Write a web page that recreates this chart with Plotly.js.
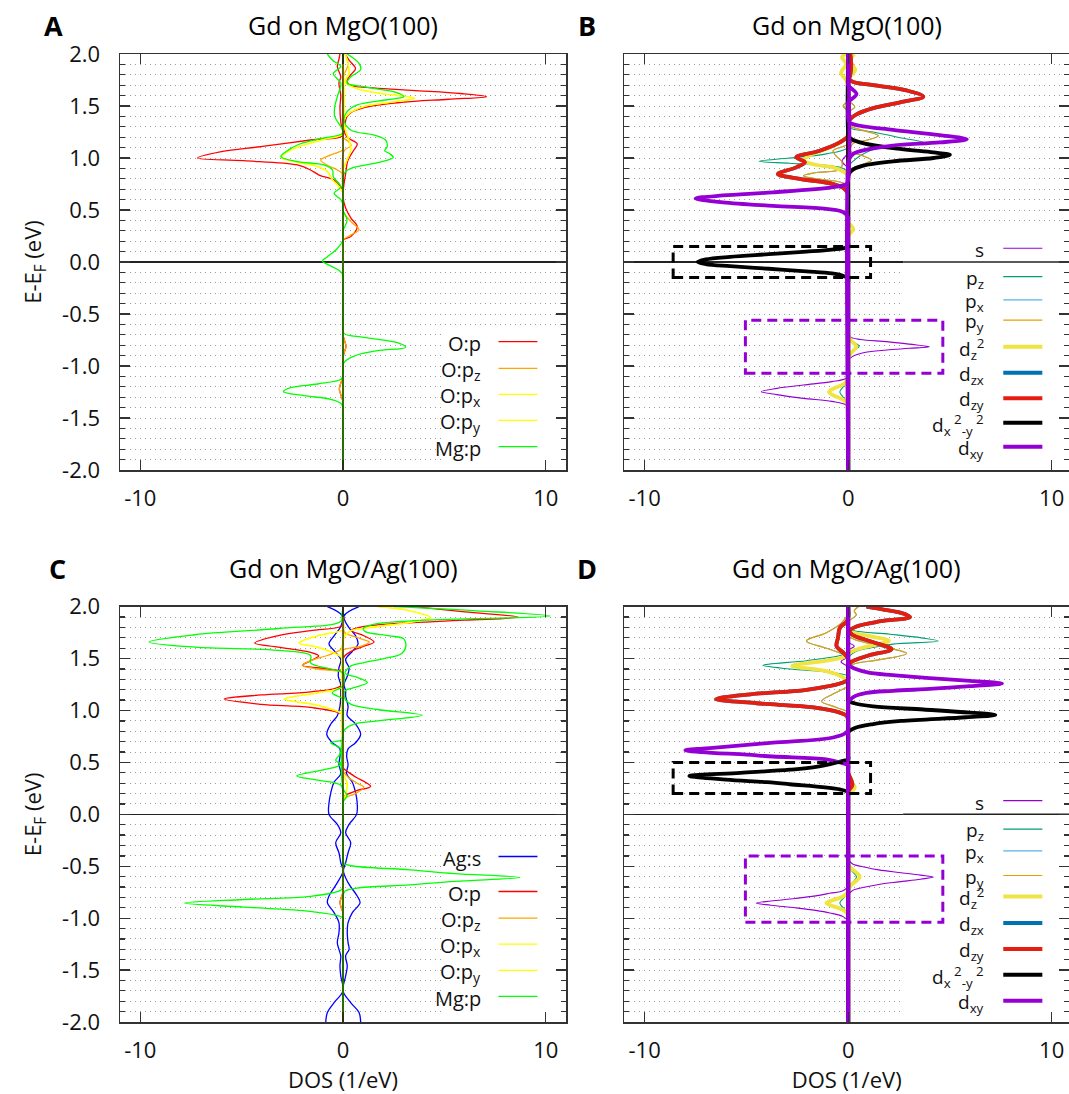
<!DOCTYPE html>
<html><head><meta charset="utf-8">
<script src="https://cdn.plot.ly/plotly-3.0.1.min.js"></script>
<style>html,body{margin:0;padding:0;background:#fff}</style>
</head><body>
<div id="chart" style="width:1069px;height:1094px"></div>
<script>
// ---------------- DATA (energy E in eV, DOS in 1/eV; spin up = +, spin down = -) ----------------
// Panel A : Gd on MgO(100), O and Mg p states
const A_Op_up_E = [2.0,1.94,1.86,1.80,1.74,1.70,1.675,1.65,1.62,1.59,1.565,1.535,1.50,1.45,1.40,1.33,1.27,1.20,1.135,1.077,0.98,0.85,0.63,0.52,0.42,0.34,0.244,0.21,0.17,-0.66,-0.70,-0.76,-0.81,-0.86,-0.92,-0.96,-2.0];
const A_Op_up_D = [0.1,0.3,0.62,0.38,0.2,0.35,1.5,3.4,5.8,7.08,5.2,2.9,1.4,0.5,0.2,0.1,0.05,0.2,0.7,0.54,0.25,0.13,0.0,0.13,0.4,0.7,0.38,0.0,0.0,0.0,0.0,0.08,0.15,0.08,0.0,0.0,0.0];
const A_Op_dn_E = [2.0,1.95,1.88,1.78,1.72,1.60,1.49,1.33,1.22,1.173,1.109,1.061,1.0,0.974,0.933,0.885,0.836,0.79,0.725,0.66,0.62,-1.06,-1.10,-1.16,-1.22,-1.28,-1.34,-1.38,-2.0];
const A_Op_dn_D = [-0.15,-0.2,-0.28,-0.11,-0.2,-0.11,-0.15,-0.1,0.0,-1.6,-4.06,-6.0,-7.18,-4.9,-2.25,-1.6,-1.18,-0.44,-0.11,0.0,0.0,0.0,0.0,-0.1,-0.18,-0.1,0.0,0.0,0.0];
const A_Opz_up_E = [2.0,1.9,1.8,1.75,1.24,1.2,1.16,1.12,1.08,1.04,0.54,0.5,0.47,0.39,0.31,0.26,0.21,0.17,-0.66,-0.70,-0.76,-0.81,-0.86,-0.92,-0.96,-2.0];
const A_Opz_up_D = [0.1,0.25,0.05,0.0,0.0,0.0,0.25,0.4,0.1,0.0,0.0,0.0,0.05,0.38,0.79,0.38,0.0,0.0,0.0,0.0,0.08,0.15,0.08,0.0,0.0,0.0];
const A_Opz_dn_E = [2.0,1.12,1.08,1.03,0.98,0.93,0.885,0.84,0.80,-1.06,-1.10,-1.16,-1.22,-1.28,-1.34,-1.38,-2.0];
const A_Opz_dn_D = [0.0,0.0,0.0,-0.6,-1.1,-0.77,-0.28,0.0,0.0,0.0,0.0,-0.1,-0.18,-0.1,0.0,0.0,0.0];
const A_Opx_up_E = [2.0,1.94,1.81,1.74,1.70,1.65,1.62,1.574,1.54,1.494,1.43,1.365,1.25,1.17,1.08,0.98,0.885,0.845,-2.0];
const A_Opx_up_D = [0.1,0.2,0.3,0.1,0.3,1.0,1.9,3.53,2.5,1.03,0.3,0.05,0.15,0.3,0.38,0.2,0.0,0.0,0.0];
const A_Opx_dn_E = [2.0,1.26,1.22,1.18,1.125,1.077,1.006,0.965,0.917,0.87,0.79,0.724,0.66,0.62,-2.0];
const A_Opx_dn_D = [0.0,0.0,-0.1,-0.94,-1.92,-2.58,-3.04,-2.4,-1.26,-0.77,-0.52,-0.2,0.0,0.0,0.0];
const A_Opy_up_E = A_Opx_up_E, A_Opy_up_D = A_Opx_up_D;
const A_Opy_dn_E = A_Opx_dn_E, A_Opy_dn_D = A_Opx_dn_D;
const A_Mgp_up_E = [2.0,1.91,1.85,1.78,1.72,1.686,1.66,1.638,1.59,1.56,1.51,1.445,1.365,1.27,1.22,1.173,1.109,1.07,1.045,1.006,0.955,0.91,0.87,0.82,0.78,0.54,0.5,0.4,0.3,0.26,-0.56,-0.6,-0.686,-0.724,-0.776,-0.82,-0.853,-0.904,-0.95,-0.99,-1.03,-2.0];
const A_Mgp_up_D = [0.2,0.79,0.87,0.38,0.2,1.03,1.8,2.5,3.0,2.18,0.7,0.2,0.05,0.38,1.53,2.1,2.18,2.05,2.27,2.48,1.7,0.54,0.13,0.0,0.0,0.0,0.0,0.2,0.0,0.0,0.0,0.0,0.05,1.03,2.68,3.09,1.69,0.54,0.13,0.0,0.0,0.0];
const A_Mgp_dn_E = [2.0,1.94,1.88,1.81,1.72,1.59,1.49,1.40,1.30,1.24,1.18,1.125,1.06,1.013,0.965,0.933,0.885,0.82,0.724,0.66,0.60,0.55,0.51,0.25,0.21,0.13,0.05,0.01,-0.03,-0.08,-0.125,-0.165,-1.05,-1.09,-1.128,-1.173,-1.208,-1.247,-1.285,-1.32,-1.36,-1.40,-1.44,-2.0];
const A_Mgp_dn_D = [-0.77,-0.52,-0.11,-0.48,-0.11,-0.28,-0.41,-0.41,-0.11,0.0,-1.26,-2.25,-2.82,-3.07,-2.25,-0.94,-0.52,-0.48,-0.11,-0.44,-0.11,0.0,0.0,0.0,0.0,-0.28,-0.77,-1.02,-0.69,-0.2,0.0,0.0,0.0,0.0,-0.1,-1.26,-2.58,-2.94,-1.92,-0.6,-0.1,0.0,0.0,0.0];

// Panel B : Gd on MgO(100), Gd orbitals
const B_s_up_E = [2.0,1.26,1.22,1.17,1.12,1.08,-0.64,-0.68,-0.72,-0.745,-0.766,-0.79,-0.814,-0.83,-0.846,-0.87,-0.91,-0.95,-0.99,-2.0];
const B_s_up_D = [0,0,0,0.25,0,0,0,0,0.1,0.6,1.9,3.0,3.99,3.0,1.9,0.8,0.2,0,0,0];
const B_s_dn_E = [2.0,1.09,1.05,0.97,0.90,0.86,-1.04,-1.08,-1.118,-1.15,-1.183,-1.215,-1.247,-1.275,-1.311,-1.34,-1.375,-1.42,-1.46,-2.0];
const B_s_dn_D = [0,0,0,-0.3,0,0,0,0,-0.1,-0.8,-2.2,-3.5,-4.27,-3.5,-2.2,-0.8,-0.1,0,0,0];
const B_pz_up_E = [2.0,1.37,1.33,1.29,1.25,1.19,1.15,1.12,1.07,1.02,0.97,0.93,0.89,-0.66,-0.70,-0.76,-0.81,-0.86,-0.92,-0.96,-2.0];
const B_pz_up_D = [0,0,0,0.08,1.23,2.7,3.69,2.2,1.07,0.57,0.25,0.05,0,0,0,0.2,0.54,0.2,0,0,0];
const B_pz_dn_E = [2.0,1.13,1.09,1.04,1.0,0.968,0.95,0.93,0.90,0.86,0.82,-1.08,-1.12,-1.19,-1.25,-1.31,-1.38,-1.42,-2.0];
const B_pz_dn_D = [0,0,-0.08,-1.07,-2.87,-4.38,-2.87,-1.07,-0.25,0,0,0,0,-0.2,-0.41,-0.2,0,0,0];
const B_py_up_E = [2.0,1.59,1.55,1.49,1.44,1.40,1.35,1.31,1.256,1.215,1.17,1.14,1.07,1.02,0.98,0.94,0.89,0.85,-2.0];
const B_py_up_D = [0,0,0.05,0.33,0,0,0,0.08,0.9,1.48,0.9,0.25,0.1,0.74,1.15,0.74,0.08,0,0];
const B_py_dn_E = [2.0,1.59,1.55,1.50,1.45,1.41,1.175,1.135,1.07,1.02,0.96,0.89,0.86,0.83,0.80,0.77,0.73,0.69,-2.0];
const B_py_dn_D = [0,0,0,-0.25,0,0,0,0,-0.74,-0.6,-0.3,-0.41,-1.56,-2.2,-1.56,-0.41,0,0,0];
const B_px_up_E = B_py_up_E, B_px_up_D = B_py_up_D;
const B_px_dn_E = B_py_dn_E, B_px_dn_D = B_py_dn_D;
const B_dz2_up_E = [2.0,1.93,1.85,1.78,1.72,1.68,0.42,0.38,0.32,0.25,0.21,-0.66,-0.70,-0.75,-0.79,-0.814,-0.84,-0.88,-0.93,-0.97,-2.0];
const B_dz2_up_D = [0.3,0.1,0.35,0.1,0,0,0,0,0.25,0,0,0,0,0.12,0.32,0.4,0.32,0.12,0,0,0];
const B_dz2_dn_E = [2.0,1.97,1.90,1.82,1.75,1.70,1.66,1.24,1.20,1.15,1.087,1.04,0.98,0.94,0.91,0.87,0.83,0.79,-1.08,-1.12,-1.17,-1.22,-1.25,-1.28,-1.33,-1.38,-1.42,-2.0];
const B_dz2_dn_D = [-0.1,-0.3,-0.1,-0.35,-0.1,0,0,0,-0.08,-0.41,-1.07,-1.72,-2.2,-1.72,-0.74,-0.25,0,0,0,0,-0.2,-0.75,-0.94,-0.75,-0.2,0,0,0];
const B_dzy_up_E = [2.0,1.90,1.80,1.76,1.73,1.70,1.65,1.59,1.535,1.48,1.42,1.375,1.33,1.29,-2.0];
const B_dzy_up_D = [0.1,0.15,0.1,0.05,0.25,1.23,2.87,3.69,2.55,1.23,0.41,0.1,0,0,0];
const B_dzy_dn_E = [2.0,1.25,1.21,1.15,1.07,1.006,0.96,0.91,0.846,0.80,0.75,0.70,0.65,0.61,-2.0];
const B_dzy_dn_D = [0,0,0,-0.41,-1.4,-2.55,-2.13,-2.55,-3.45,-2.38,-0.74,-0.16,0,0,0];
const B_dzx_up_E = B_dzy_up_E, B_dzx_up_D = B_dzy_up_D;
const B_dzx_dn_E = B_dzy_dn_E, B_dzx_dn_D = B_dzy_dn_D;
const B_dx2_up_E = [2.0,1.24,1.20,1.15,1.087,1.054,1.03,1.0,0.968,0.926,0.878,0.83,0.79,-2.0];
const B_dx2_up_D = [0,0,0.05,0.57,2.55,4.19,5.0,4.19,2.2,0.74,0.16,0,0,0];
const B_dx2_dn_E = [2.0,0.20,0.16,0.14,0.12,0.10,0.075,0.05,0.025,0.0,-0.02,-0.04,-0.065,-0.09,-0.11,-0.13,-0.16,-0.20,-2.0];
const B_dx2_dn_D = [0,0,0,-0.1,-0.8,-2.05,-3.9,-5.8,-7.0,-7.4,-7.0,-5.8,-3.9,-2.05,-0.8,-0.3,0,0,0];
const B_dxy_up_E = [2.0,1.74,1.70,1.615,1.535,1.49,1.38,1.34,1.31,1.27,1.22,1.18,1.15,1.12,1.08,1.04,0.99,0.95,-2.0];
const B_dxy_up_D = [0,0,0,0.41,0,0,0,0.08,0.57,2.2,4.5,5.83,4.5,2.2,0.9,0.25,0.05,0,0];
const B_dxy_dn_E = [2.0,0.79,0.75,0.72,0.67,0.64,0.61,0.574,0.54,0.51,0.48,0.43,0.39,-2.0];
const B_dxy_dn_D = [0,0,-0.08,-0.74,-3.7,-6.16,-7.5,-6.16,-3.7,-1.07,-0.25,0,0,0];

// Panel C : Gd on MgO/Ag(100), Ag s, O and Mg p states
const C_Ags_E = [2.0,1.91,1.81,1.72,1.64,1.57,1.49,1.41,1.33,1.25,1.19,1.14,1.04,0.95,0.87,0.77,0.69,0.63,0.56,0.48,0.39,0.31,0.21,0.11,0.0,-0.097,-0.177,-0.273,-0.37,-0.466,-0.546,-0.658,-0.787,-0.851,-0.947,-1.043,-1.14,-1.236,-1.30,-1.364,-1.46,-1.557,-1.70,-1.813,-1.909,-2.0];
const C_Ags_up_D = [0.79,0.05,0.25,0.62,0.74,0.46,0.13,0.3,0.21,0.05,0.13,0.13,0.25,0.21,0.62,0.87,0.62,0.25,0.18,0.25,0.18,0.46,0.62,0.7,0.67,0.3,0.13,0.38,0.25,0.13,0.02,0.25,0.7,0.84,0.46,0.25,0.21,0.25,0.3,0.13,0.21,0.13,0.0,0.38,0.79,0.87];
const C_Ags_dn_D = [-0.77,-0.03,-0.11,-0.44,-0.69,-0.41,-0.11,-0.2,-0.23,-0.11,-0.11,-0.11,-0.15,-0.28,-0.6,-0.8,-0.52,-0.15,-0.15,-0.2,-0.11,-0.44,-0.6,-0.69,-0.69,-0.28,-0.11,-0.36,-0.2,-0.11,0.0,-0.28,-0.69,-0.77,-0.44,-0.2,-0.2,-0.28,-0.2,-0.11,-0.15,-0.11,0.0,-0.44,-0.77,-0.85];
const C_Op_up_E = [2.0,1.95,1.90,1.87,1.83,1.80,1.77,1.72,1.66,1.62,1.57,1.53,1.49,0.49,0.45,0.43,0.37,0.27,0.23,0.18,0.14,0.10,-2.0];
const C_Op_up_D = [3.5,6.0,8.67,6.0,2.0,0.8,0.4,1.03,1.53,1.03,0.4,0.1,0,0,0,0.1,0.54,1.36,0.7,0.1,0,0,0];
const C_Op_dn_E = [2.0,1.84,1.81,1.77,1.72,1.65,1.61,1.56,1.525,1.48,1.435,1.40,1.365,1.24,1.18,1.15,1.11,1.06,1.03,0.96,0.92,-0.71,-0.75,-0.80,-0.85,-0.90,-0.95,-0.99,-2.0];
const C_Op_dn_D = [0,0,-0.1,-1.6,-3.23,-4.35,-3.2,-1.6,-1.2,-1.6,-2.0,-0.77,0,-0.1,-1.6,-4.05,-5.86,-4.05,-1.6,0,0,0,0,-0.08,-0.15,-0.08,0,0,0];
const C_Opz_up_E = [2.0,1.79,1.75,1.69,1.66,1.62,1.58,1.54,0.46,0.42,0.35,0.30,0.26,0.20,0.15,0.10,0.06,-2.0];
const C_Opz_up_D = [0,0,0.1,0.9,1.3,0.9,0,0,0,0,0.3,0.7,1.03,0.6,0.05,0,0,0];
const C_Opz_dn_E = [2.0,1.63,1.59,1.53,1.48,1.435,1.40,1.365,1.33,-0.71,-0.75,-0.80,-0.85,-0.90,-0.95,-0.99,-2.0];
const C_Opz_dn_D = [0,0,-0.1,-0.77,-1.6,-2.0,-1.26,0,0,0,0,-0.08,-0.15,-0.08,0,0,0];
const C_Opx_up_E = [2.0,1.96,1.895,1.85,1.80,1.77,1.72,1.68,0.44,0.40,0.30,0.20,0.12,0.08,-2.0];
const C_Opx_up_D = [1.7,3.3,4.32,3.3,1.36,0.4,0.1,0,0,0,0.2,0.15,0,0,0];
const C_Opx_dn_E = [2.0,1.82,1.78,1.72,1.65,1.61,1.54,1.50,1.46,1.26,1.22,1.17,1.11,1.05,0.96,0.92,-2.0];
const C_Opx_dn_D = [0,0,0,-1.26,-2.17,-1.26,-0.3,0,0,0,-0.1,-1.26,-2.9,-1.26,0,0,0];
const C_Opy_up_E = C_Opx_up_E, C_Opy_up_D = C_Opx_up_D;
const C_Opy_dn_E = C_Opx_dn_E, C_Opy_dn_D = C_Opx_dn_D;
const C_Mgp_up_E = [2.0,1.96,1.91,1.87,1.83,1.79,1.76,1.72,1.69,1.62,1.55,1.50,1.46,1.43,1.36,1.32,1.27,1.22,1.19,1.11,1.06,1.01,0.954,0.90,0.87,0.82,0.78,0.25,0.18,0.12,0.08,-0.41,-0.45,-0.47,-0.495,-0.534,-0.57,-0.608,-0.645,-0.68,-0.71,-0.74,-0.78,-0.82,-2.0];
const C_Mgp_up_D = [2.5,6.6,10.23,4.0,1.5,1.0,1.1,2.3,3.0,3.1,2.9,2.0,1.0,0.4,0.1,0.7,1.2,0.54,0.1,0.1,0.4,1.7,3.9,1.7,0.54,0.1,0,0,0.2,0,0,0,0,0.05,0.4,3.3,5.5,8.72,5.5,3.3,0.7,0.1,0,0,0];
const C_Mgp_dn_E = [2.0,1.93,1.86,1.79,1.73,1.66,1.61,1.58,1.53,1.46,1.40,1.36,1.24,1.17,1.11,1.07,0.76,0.72,0.69,0.63,0.58,0.52,0.48,0.43,0.37,0.33,0.28,0.20,0.16,-0.66,-0.70,-0.73,-0.79,-0.82,-0.855,-0.893,-0.935,-0.998,-1.04,-2.0];
const C_Mgp_dn_D = [0,-0.05,-0.1,-3.2,-7.3,-9.56,-7.3,-3.2,-1.6,-1.6,-0.6,0,0,-0.53,0,0,0,0,-0.6,-0.1,-0.15,-0.36,-0.1,-0.94,-2.28,-1.26,-0.1,0,0,0,0,-0.1,-1.6,-4.9,-7.83,-4.9,-1.6,0,0,0];

// Panel D : Gd on MgO/Ag(100), Gd orbitals
const D_s_up_E = [2.0,1.70,1.66,1.62,1.58,1.54,-0.39,-0.43,-0.475,-0.51,-0.535,-0.56,-0.585,-0.604,-0.625,-0.65,-0.675,-0.70,-0.735,-0.78,-0.82,-2.0];
const D_s_up_D = [0,0,0,0.3,0,0,0,0,0.2,0.85,1.5,2.5,3.55,4.19,3.55,2.5,1.5,0.85,0.2,0,0,0];
const D_s_dn_E = [2.0,1.56,1.52,1.47,1.42,1.38,-0.65,-0.69,-0.735,-0.76,-0.785,-0.81,-0.835,-0.855,-0.875,-0.90,-0.925,-0.95,-0.985,-1.03,-1.07,-2.0];
const D_s_dn_D = [0,0,0,-0.35,0,0,0,0,-0.25,-0.9,-1.6,-2.6,-3.8,-4.52,-3.8,-2.6,-1.6,-0.9,-0.25,0,0,0];
const D_pz_up_E = [2.0,1.80,1.77,1.735,1.70,1.67,1.64,1.60,1.57,1.53,1.49,-0.46,-0.50,-0.56,-0.604,-0.65,-0.70,-0.74,-2.0];
const D_pz_up_D = [0,0,0.25,2.05,3.6,4.43,2.2,1.0,0.4,0.1,0,0,0,0.25,0.41,0.25,0,0,0];
const D_pz_dn_E = [2.0,1.60,1.56,1.53,1.48,1.435,1.40,1.365,1.33,1.29,-0.70,-0.74,-0.80,-0.855,-0.91,-0.97,-1.01,-2.0];
const D_pz_dn_D = [0,0,0,-0.4,-2.05,-4.19,-2.87,-0.74,0,0,0,0,-0.2,-0.41,-0.2,0,0,0];
const D_py_up_E = [2.0,1.96,1.92,1.85,1.72,1.69,1.62,1.55,1.49,1.445,1.40,1.36,-2.0];
const D_py_up_D = [0.5,0.3,0.4,0,0,0.25,1.56,2.87,1.56,0.25,0,0,0];
const D_py_dn_E = [2.0,1.94,1.85,1.75,1.67,1.60,1.54,1.50,1.46,1.28,1.24,1.16,1.09,1.03,0.98,0.94,-2.0];
const D_py_dn_D = [0,0,-0.3,-1.07,-2.05,-1.07,-0.25,0,0,0,0,-0.74,-1.31,-0.57,0,0,0];
const D_px_up_E = D_py_up_E, D_px_up_D = D_py_up_D;
const D_px_dn_E = D_py_dn_E, D_px_dn_D = D_py_dn_D;
const D_dz2_up_E = [2.0,1.82,1.78,1.75,1.71,1.67,1.63,1.575,1.54,1.50,0.40,0.36,0.30,0.26,0.22,0.18,0.14,-0.44,-0.48,-0.52,-0.56,-0.60,-0.64,-0.68,-0.72,-0.76,-2.0];
const D_dz2_up_D = [0,0,0,0.25,1.23,2.0,1.23,0.25,0,0,0,0,0.2,0.33,0.2,0,0,0,0,0.15,0.4,0.57,0.4,0.15,0,0,0];
const D_dz2_dn_E = [2.0,1.60,1.56,1.525,1.48,1.43,1.38,1.32,1.28,1.24,-0.70,-0.74,-0.79,-0.83,-0.855,-0.88,-0.92,-0.97,-1.01,-2.0];
const D_dz2_dn_D = [0,0,0,-0.1,-1.07,-2.75,-1.07,-0.25,0,0,0,0,-0.25,-0.8,-1.07,-0.8,-0.25,0,0,0];
const D_dzy_up_E = [2.0,1.97,1.94,1.90,1.86,1.81,1.77,1.73,1.66,1.59,1.53,1.46,1.42,1.38,0.44,0.40,0.33,0.28,0.22,0.18,-2.0];
const D_dzy_up_D = [0.9,1.8,2.6,3.04,1.6,0.41,0.08,0.2,1.2,2.13,1.0,0.1,0,0,0,0,0.15,0.2,0,0,0];
const D_dzy_dn_E = [2.0,1.89,1.85,1.80,1.70,1.62,1.55,1.50,1.46,1.34,1.30,1.27,1.20,1.156,1.11,1.07,1.03,0.98,0.95,0.91,0.87,-2.0];
const D_dzy_dn_D = [0,0,-0.1,-0.4,-0.5,-0.57,-0.2,0,0,0,0,-0.25,-2.05,-4.8,-6.49,-4.5,-1.7,-0.41,-0.08,0,0,0];
const D_dzx_up_E = D_dzy_up_E, D_dzx_up_D = D_dzy_up_D;
const D_dzx_dn_E = D_dzy_dn_E, D_dzx_dn_D = D_dzy_dn_D;
const D_dx2_up_E = [2.0,1.14,1.10,1.07,1.04,1.01,0.98,0.958,0.935,0.90,0.87,0.83,0.79,0.75,-2.0];
const D_dx2_up_D = [0,0,0,0.3,1.23,3.7,6.0,7.23,5.8,2.6,1.23,0.3,0,0,0];
const D_dx2_dn_E = [2.0,0.57,0.53,0.515,0.46,0.43,0.40,0.37,0.335,0.31,0.29,0.24,0.21,0.17,-2.0];
const D_dx2_dn_D = [0,0,0,-0.25,-1.5,-2.87,-5.3,-7.8,-6.0,-4.0,-2.87,-0.41,0,0,0];
const D_dxy_up_E = [2.0,1.49,1.45,1.42,1.37,1.34,1.31,1.285,1.26,1.235,1.21,1.19,1.17,1.13,1.08,1.04,-2.0];
const D_dxy_up_D = [0,0,0,0.15,0.9,2.2,4.19,6.0,7.56,6.0,4.19,2.2,0.9,0.25,0,0,0];
const D_dxy_dn_E = [2.0,0.86,0.82,0.79,0.74,0.69,0.655,0.635,0.618,0.60,0.575,0.557,0.53,0.50,0.47,0.43,-2.0];
const D_dxy_dn_D = [0,0,0,-0.08,-0.74,-3.7,-5.8,-7.0,-8.0,-7.2,-5.0,-3.7,-1.07,-0.41,0,0,0];

// Tick labels and key names
const xTickVals = [-10, 0, 10];
const xTickText = ['-10', '0', '10'];
const yTickVals = [-2, -1.5, -1, -0.5, 0, 0.5, 1, 1.5, 2];
const yTickText = ['-2.0', '-1.5', '-1.0', '-0.5', '0.0', '0.5', '1.0', '1.5', '2.0'];
const A_legendNames = ['O:p', 'O:p<sub>z</sub>', 'O:p<sub>x</sub>', 'O:p<sub>y</sub>', 'Mg:p'];
const C_legendNames = ['Ag:s', 'O:p', 'O:p<sub>z</sub>', 'O:p<sub>x</sub>', 'O:p<sub>y</sub>', 'Mg:p'];
const BD_legendNames = ['s', 'p<sub>z</sub>', 'p<sub>x</sub>', 'p<sub>y</sub>', 'd<sub>z</sub><sup>2</sup>', 'd<sub>zx</sub>', 'd<sub>zy</sub>', 'd<sub>x</sub><sup> 2</sup><sub>-y</sub><sup> 2</sup>', 'd<sub>xy</sub>'];
const panelTitles = ['Gd on MgO(100)', 'Gd on MgO(100)', 'Gd on MgO/Ag(100)', 'Gd on MgO/Ag(100)'];
const panelLetters = ['A', 'B', 'C', 'D'];

// ---------------- STYLE ----------------
const FONT = '"Open Sans", "DejaVu Sans", sans-serif';
const RED = '#ff0000', ORANGE = '#ffa500', YELLOW = '#ffff00', GREEN = '#00ff00', BLUE = '#0000ff';
const G_S = '#9400d3', G_PZ = '#009e73', G_PX = '#56b4e9', G_PY = '#e69f00', G_DZ2 = '#f0e442', G_DZX = '#0072b2', G_DZY = '#e51e10', G_DX2 = '#000000', G_DXY = '#9400d3';
const THIN_AC = 1.3, THIN = 1.1, THICK = 3.8;

const traces = [];
function curve(E, D, xa, ya, color, width) {
  traces.push({type: 'scatter', mode: 'lines', x: D, y: E, xaxis: xa, yaxis: ya,
    line: {color: color, width: width, shape: 'spline', smoothing: 1},
    hoverinfo: 'skip', showlegend: false});
}
// Panel A
curve(A_Op_up_E, A_Op_up_D, 'x', 'y', RED, THIN_AC); curve(A_Op_dn_E, A_Op_dn_D, 'x', 'y', RED, THIN_AC);
curve(A_Opz_up_E, A_Opz_up_D, 'x', 'y', ORANGE, THIN_AC); curve(A_Opz_dn_E, A_Opz_dn_D, 'x', 'y', ORANGE, THIN_AC);
curve(A_Opx_up_E, A_Opx_up_D, 'x', 'y', YELLOW, THIN_AC); curve(A_Opx_dn_E, A_Opx_dn_D, 'x', 'y', YELLOW, THIN_AC);
curve(A_Opy_up_E, A_Opy_up_D, 'x', 'y', YELLOW, THIN_AC); curve(A_Opy_dn_E, A_Opy_dn_D, 'x', 'y', YELLOW, THIN_AC);
curve(A_Mgp_up_E, A_Mgp_up_D, 'x', 'y', GREEN, THIN_AC); curve(A_Mgp_dn_E, A_Mgp_dn_D, 'x', 'y', GREEN, THIN_AC);
// Panel B
curve(B_s_up_E, B_s_up_D, 'x2', 'y2', G_S, THIN); curve(B_s_dn_E, B_s_dn_D, 'x2', 'y2', G_S, THIN);
curve(B_pz_up_E, B_pz_up_D, 'x2', 'y2', G_PZ, THIN); curve(B_pz_dn_E, B_pz_dn_D, 'x2', 'y2', G_PZ, THIN);
curve(B_px_up_E, B_px_up_D, 'x2', 'y2', G_PX, THIN); curve(B_px_dn_E, B_px_dn_D, 'x2', 'y2', G_PX, THIN);
curve(B_py_up_E, B_py_up_D, 'x2', 'y2', G_PY, THIN); curve(B_py_dn_E, B_py_dn_D, 'x2', 'y2', G_PY, THIN);
curve(B_dz2_up_E, B_dz2_up_D, 'x2', 'y2', G_DZ2, THICK); curve(B_dz2_dn_E, B_dz2_dn_D, 'x2', 'y2', G_DZ2, THICK);
curve(B_dzx_up_E, B_dzx_up_D, 'x2', 'y2', G_DZX, THICK); curve(B_dzx_dn_E, B_dzx_dn_D, 'x2', 'y2', G_DZX, THICK);
curve(B_dzy_up_E, B_dzy_up_D, 'x2', 'y2', G_DZY, THICK); curve(B_dzy_dn_E, B_dzy_dn_D, 'x2', 'y2', G_DZY, THICK);
curve(B_dx2_up_E, B_dx2_up_D, 'x2', 'y2', G_DX2, THICK); curve(B_dx2_dn_E, B_dx2_dn_D, 'x2', 'y2', G_DX2, THICK);
curve(B_dxy_up_E, B_dxy_up_D, 'x2', 'y2', G_DXY, THICK); curve(B_dxy_dn_E, B_dxy_dn_D, 'x2', 'y2', G_DXY, THICK);
// Panel C
curve(C_Ags_E, C_Ags_up_D, 'x3', 'y3', BLUE, THIN_AC); curve(C_Ags_E, C_Ags_dn_D, 'x3', 'y3', BLUE, THIN_AC);
curve(C_Op_up_E, C_Op_up_D, 'x3', 'y3', RED, THIN_AC); curve(C_Op_dn_E, C_Op_dn_D, 'x3', 'y3', RED, THIN_AC);
curve(C_Opz_up_E, C_Opz_up_D, 'x3', 'y3', ORANGE, THIN_AC); curve(C_Opz_dn_E, C_Opz_dn_D, 'x3', 'y3', ORANGE, THIN_AC);
curve(C_Opx_up_E, C_Opx_up_D, 'x3', 'y3', YELLOW, THIN_AC); curve(C_Opx_dn_E, C_Opx_dn_D, 'x3', 'y3', YELLOW, THIN_AC);
curve(C_Opy_up_E, C_Opy_up_D, 'x3', 'y3', YELLOW, THIN_AC); curve(C_Opy_dn_E, C_Opy_dn_D, 'x3', 'y3', YELLOW, THIN_AC);
curve(C_Mgp_up_E, C_Mgp_up_D, 'x3', 'y3', GREEN, THIN_AC); curve(C_Mgp_dn_E, C_Mgp_dn_D, 'x3', 'y3', GREEN, THIN_AC);
// Panel D
curve(D_s_up_E, D_s_up_D, 'x4', 'y4', G_S, THIN); curve(D_s_dn_E, D_s_dn_D, 'x4', 'y4', G_S, THIN);
curve(D_pz_up_E, D_pz_up_D, 'x4', 'y4', G_PZ, THIN); curve(D_pz_dn_E, D_pz_dn_D, 'x4', 'y4', G_PZ, THIN);
curve(D_px_up_E, D_px_up_D, 'x4', 'y4', G_PX, THIN); curve(D_px_dn_E, D_px_dn_D, 'x4', 'y4', G_PX, THIN);
curve(D_py_up_E, D_py_up_D, 'x4', 'y4', G_PY, THIN); curve(D_py_dn_E, D_py_dn_D, 'x4', 'y4', G_PY, THIN);
curve(D_dz2_up_E, D_dz2_up_D, 'x4', 'y4', G_DZ2, THICK); curve(D_dz2_dn_E, D_dz2_dn_D, 'x4', 'y4', G_DZ2, THICK);
curve(D_dzx_up_E, D_dzx_up_D, 'x4', 'y4', G_DZX, THICK); curve(D_dzx_dn_E, D_dzx_dn_D, 'x4', 'y4', G_DZX, THICK);
curve(D_dzy_up_E, D_dzy_up_D, 'x4', 'y4', G_DZY, THICK); curve(D_dzy_dn_E, D_dzy_dn_D, 'x4', 'y4', G_DZY, THICK);
curve(D_dx2_up_E, D_dx2_up_D, 'x4', 'y4', G_DX2, THICK); curve(D_dx2_dn_E, D_dx2_dn_D, 'x4', 'y4', G_DX2, THICK);
curve(D_dxy_up_E, D_dxy_up_D, 'x4', 'y4', G_DXY, THICK); curve(D_dxy_dn_E, D_dxy_dn_D, 'x4', 'y4', G_DXY, THICK);

// ---------------- LAYOUT ----------------
const W = 1069, H = 1094, ML = 120, MR = 0, MT = 54, MB = 72;
const PW = W - ML - MR, PH = H - MT - MB;
const px = v => (v - ML) / PW;          // pixel -> paper x
const py = v => (H - MB - v) / PH;      // pixel -> paper y

const axLine = '#333';
const tickFont = {family: FONT, size: 22, color: '#111'};
const xBase = {range: [-11, 11], tickmode: 'array', tickvals: xTickVals, ticktext: xTickText,
  ticks: 'inside', ticklen: 10, tickwidth: 1.3, tickcolor: axLine, showline: true, linecolor: axLine,
  linewidth: 1.5, mirror: 'ticks', showgrid: false, zeroline: false, tickfont: tickFont,
  ticklabelstandoff: 8, fixedrange: true};
const gridStyle = {showgrid: true, gridcolor: '#9a9a9a', gridwidth: 1, griddash: '1px,4px'};
const yBase = Object.assign({range: [-2, 2], tickmode: 'array', tickvals: yTickVals, ticktext: yTickText,
  ticks: 'inside', ticklen: 10, tickwidth: 1.3, tickcolor: axLine, showline: true, linecolor: axLine,
  linewidth: 1.5, mirror: 'ticks', zeroline: true, zerolinecolor: '#222', zerolinewidth: 1.5,
  tickfont: tickFont, ticklabelstandoff: 14, fixedrange: true,
  minor: Object.assign({tickmode: 'linear', tick0: 0, dtick: 0.1, ticks: 'inside', ticklen: 5,
    tickwidth: 1.3, tickcolor: axLine}, gridStyle)}, gridStyle);

const yTitle = {text: 'E-E<sub>F</sub> (eV)', font: {family: FONT, size: 22, color: '#111'}, standoff: 14};
const xTitle = {text: 'DOS (1/eV)', font: {family: FONT, size: 22, color: '#111'}, standoff: 4};

const topDom = [py(470), 1], botDom = [0, py(606.7)];
const leftDom = [0, px(566)], rightDom = [px(624.3), 1];
const rightRange = [-11, 10.85];

const layout = {
  width: W, height: H, margin: {l: ML, r: MR, t: MT, b: MB},
  paper_bgcolor: '#fff', plot_bgcolor: '#fff', showlegend: false,
  font: {family: FONT, color: '#111'},
  xaxis: Object.assign({}, xBase, {domain: leftDom, anchor: 'y'}),
  yaxis: Object.assign({}, yBase, {domain: topDom, anchor: 'x', title: yTitle}),
  xaxis2: Object.assign({}, xBase, {domain: rightDom, anchor: 'y2', range: rightRange}),
  yaxis2: Object.assign({}, yBase, {domain: topDom, anchor: 'x2', showticklabels: false}),
  xaxis3: Object.assign({}, xBase, {domain: leftDom, anchor: 'y3', title: xTitle}),
  yaxis3: Object.assign({}, yBase, {domain: botDom, anchor: 'x3', title: yTitle}),
  xaxis4: Object.assign({}, xBase, {domain: rightDom, anchor: 'y4', range: rightRange, title: xTitle}),
  yaxis4: Object.assign({}, yBase, {domain: botDom, anchor: 'x4', showticklabels: false}),
  shapes: [], annotations: []
};

// panel titles and letters
const titleX = [343, 846.7, 343, 846.7], titleY = [25, 25, 568, 568];
const letterX = [53, 587, 57, 587];
for (let i = 0; i < 4; i++) {
  layout.annotations.push({xref: 'paper', yref: 'paper', x: px(titleX[i]), y: py(titleY[i]),
    xanchor: 'center', yanchor: 'middle', showarrow: false, text: panelTitles[i],
    font: {family: FONT, size: 25, color: '#000'}});
  layout.annotations.push({xref: 'paper', yref: 'paper', x: px(letterX[i]), y: py(titleY[i]),
    xanchor: 'center', yanchor: 'middle', showarrow: false, text: '<b>' + panelLetters[i] + '</b>',
    font: {family: FONT, size: 27, color: '#000'}});
}

// opaque key backgrounds (hide dotted grid under the keys), then redraw the E=0 line over them
function keyBox(xr, yr, x0, y1) {
  layout.shapes.push({type: 'rect', xref: xr, yref: yr, x0: x0, x1: 11.5, y0: -2, y1: y1,
    fillcolor: '#fff', line: {width: 0}, layer: 'between'});
  if (y1 > 0) {
    layout.shapes.push({type: 'line', xref: xr, yref: yr, x0: x0, x1: 11.5, y0: 0, y1: 0,
      line: {color: '#222', width: 1.5}, layer: 'between'});
  }
}
keyBox('x', 'y', 5.0, -0.62);
keyBox('x2', 'y2', 2.7, 0.35);
keyBox('x3', 'y3', 5.0, -0.25);
keyBox('x4', 'y4', 2.7, 0.45);

// vertical zero lines in A and C
['', '3'].forEach(s => {
  layout.shapes.push({type: 'line', xref: 'x' + s, yref: 'y' + s, x0: 0, x1: 0, y0: -2, y1: 2,
    line: {color: '#263300', width: 1.4}, layer: 'above'});
});

// dashed highlight boxes
function dashBox(xr, yr, x0, x1, y0, y1, color) {
  layout.shapes.push({type: 'rect', xref: xr, yref: yr, x0: x0, x1: x1, y0: y0, y1: y1,
    line: {color: color, width: 3, dash: '10px,6px'}, fillcolor: 'rgba(0,0,0,0)', layer: 'above'});
}
dashBox('x2', 'y2', -8.6, 1.1, -0.15, 0.15, '#000');
dashBox('x2', 'y2', -5.05, 4.65, -1.07, -0.56, G_DXY);
dashBox('x4', 'y4', -8.6, 1.1, 0.2, 0.5, '#000');
dashBox('x4', 'y4', -5.05, 4.65, -1.04, -0.4, G_DXY);

// keys
function key(xr, yr, names, rows, colors, widths, textX, l0, l1, fs) {
  names.forEach((n, i) => {
    layout.annotations.push({xref: xr, yref: yr, x: textX, y: rows[i], xanchor: 'right', yanchor: 'middle',
      showarrow: false, text: n, font: {family: FONT, size: fs, color: '#111'}, yshift: -2});
    layout.shapes.push({type: 'line', xref: xr, yref: yr, x0: l0, x1: l1, y0: rows[i], y1: rows[i],
      line: {color: colors[i], width: widths[i]}, layer: 'above'});
  });
}
key('x', 'y', A_legendNames, [-0.766, -1.022, -1.272, -1.522, -1.776],
  [RED, ORANGE, YELLOW, YELLOW, GREEN], [1.3, 1.3, 1.3, 1.3, 1.3], 6.93, 7.67, 9.59, 20);
key('x3', 'y3', C_legendNames, [-0.406, -0.743, -0.999, -1.249, -1.503, -1.754],
  [BLUE, RED, ORANGE, YELLOW, YELLOW, GREEN], [1.3, 1.3, 1.3, 1.3, 1.3, 1.3], 6.93, 7.67, 9.59, 20);
const bdColors = [G_S, G_PZ, G_PX, G_PY, G_DZ2, G_DZX, G_DZY, G_DX2, G_DXY];
const bdWidths = [1.2, 1.2, 1.2, 1.2, 4, 4, 4, 4, 4];
key('x2', 'y2', BD_legendNames, [0.132, -0.141, -0.365, -0.558, -0.814, -1.064, -1.311, -1.545, -1.776],
  bdColors, bdWidths, 6.76, 7.62, 9.54, 19);
key('x4', 'y4', BD_legendNames, [0.133, -0.142, -0.351, -0.589, -0.791, -1.047, -1.297, -1.545, -1.795],
  bdColors, bdWidths, 6.76, 7.62, 9.54, 19);

Plotly.newPlot('chart', traces, layout, {staticPlot: true, displayModeBar: false});
</script>
</body></html>
